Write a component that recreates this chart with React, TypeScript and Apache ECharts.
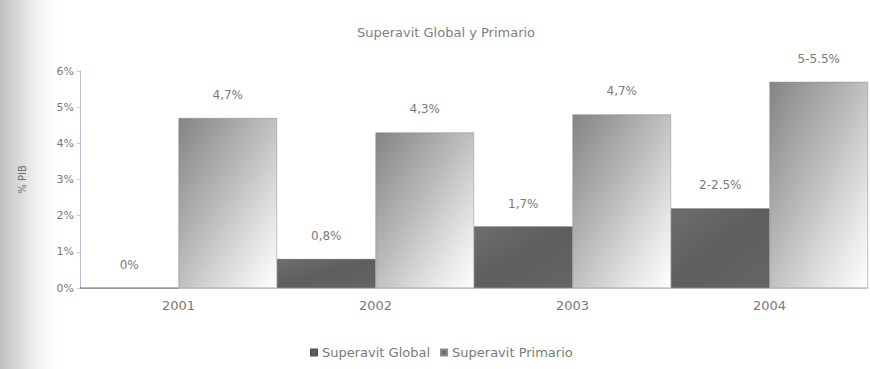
import React, { useEffect, useRef } from "react";
import * as echarts from "echarts";

const categories = ["2001", "2002", "2003", "2004"];
const globalValues = [0, 0.8, 1.7, 2.2];
const primaryValues = [4.7, 4.3, 4.8, 5.7];
const globalLabels = ["0%", "0,8%", "1,7%", "2-2.5%"];
const primaryLabels = ["4,7%", "4,3%", "4,7%", "5-5.5%"];
const yTicks = [0, 1, 2, 3, 4, 5, 6];

const FONT = "'DejaVu Sans', sans-serif";
const TEXT = "#7a7a7a";

export default function App() {
  const ref = useRef<HTMLDivElement>(null);
  useEffect(() => {
    if (!ref.current) return;
    const chart = echarts.init(ref.current, null, { renderer: "svg" });
    const labelStyle = {
      show: true,
      position: "top",
      distance: 17,
      color: TEXT,
      fontSize: 12,
      fontFamily: FONT,
    };
    chart.setOption({
      animation: false,
      backgroundColor: "#ffffff",
      graphic: [
        {
          type: "rect",
          left: 0,
          top: 0,
          shape: { x: 0, y: 0, width: 66, height: 369 },
          style: {
            fill: new echarts.graphic.LinearGradient(0, 0, 1, 0, [
              { offset: 0, color: "#c0c0c0" },
              { offset: 0.35, color: "#dedede" },
              { offset: 1, color: "rgba(255,255,255,0)" },
            ]),
          },
          z: -10,
          silent: true,
        },
      ],
      title: {
        text: "Superavit Global y Primario",
        left: 441,
        textAlign: "center",
        top: 21,
        textStyle: { color: "#808080", fontSize: 13, fontWeight: "normal", fontFamily: FONT },
      },
      legend: {
        top: 341,
        left: 305,
        itemWidth: 6,
        itemHeight: 6,
        itemGap: 10,
        icon: "rect",
        textStyle: { color: TEXT, fontSize: 13, fontFamily: FONT, padding: [0, 0, 0, 0] },
        data: [
          { name: "Superavit Global", itemStyle: { color: "#5e5e5e" } },
          { name: "Superavit Primario", itemStyle: { color: "#6a6a6a" } },
        ],
      },
      grid: { left: 80, right: 2, top: 71, bottom: 81, containLabel: false },
      xAxis: {
        type: "category",
        data: categories,
        axisLine: { show: true, lineStyle: { color: "#c8c8d8", width: 1 } },
        axisTick: { show: false },
        axisLabel: {
          color: TEXT,
          fontSize: 13,
          fontFamily: FONT,
          margin: 11,
        },
      },
      yAxis: {
        type: "value",
        min: yTicks[0],
        max: yTicks[yTicks.length - 1],
        interval: 1,
        name: "% PIB",
        nameLocation: "middle",
        nameRotate: 90,
        nameGap: 53,
        nameTextStyle: { color: "#707070", fontSize: 10, fontFamily: FONT },
        axisLine: { show: true, lineStyle: { color: "#b8b8d8", width: 1 } },
        axisTick: { show: true, length: 3, lineStyle: { color: "#c8c8d8" } },
        splitLine: { show: false },
        axisLabel: {
          color: TEXT,
          fontSize: 11,
          fontFamily: FONT,
          margin: 6,
          formatter: (v: number) => v + "%",
        },
      },
      series: [
        {
          name: "Superavit Global",
          type: "bar",
          barGap: "0%",
          barCategoryGap: "0%",
          data: globalValues,
          itemStyle: {
            color: new echarts.graphic.LinearGradient(0, 0, 1, 1, [
              { offset: 0, color: "#6e6e6e" },
              { offset: 0.5, color: "#5f5d5d" },
              { offset: 1, color: "#666464" },
            ]),
            borderColor: "#555",
            borderWidth: 0.5,
          },
          label: {
            ...labelStyle,
            formatter: (p: any) => globalLabels[p.dataIndex],
          },
        },
        {
          name: "Superavit Primario",
          type: "bar",
          data: primaryValues,
          itemStyle: {
            color: new echarts.graphic.LinearGradient(0, 0, 1, 1, [
              { offset: 0, color: "#858383" },
              { offset: 0.45, color: "#bbb9bb" },
              { offset: 0.8, color: "#e8e8ea" },
              { offset: 1, color: "#ffffff" },
            ]),
            borderColor: "#8a8a8a",
            borderWidth: 0.5,
          },
          label: {
            ...labelStyle,
            formatter: (p: any) => primaryLabels[p.dataIndex],
          },
        },
      ],
    });
    return () => chart.dispose();
  }, []);
  return (
    <div
      ref={ref}
      style={{ position: "fixed", left: 0, top: 0, width: 870, height: 369 }}
    />
  );
}
